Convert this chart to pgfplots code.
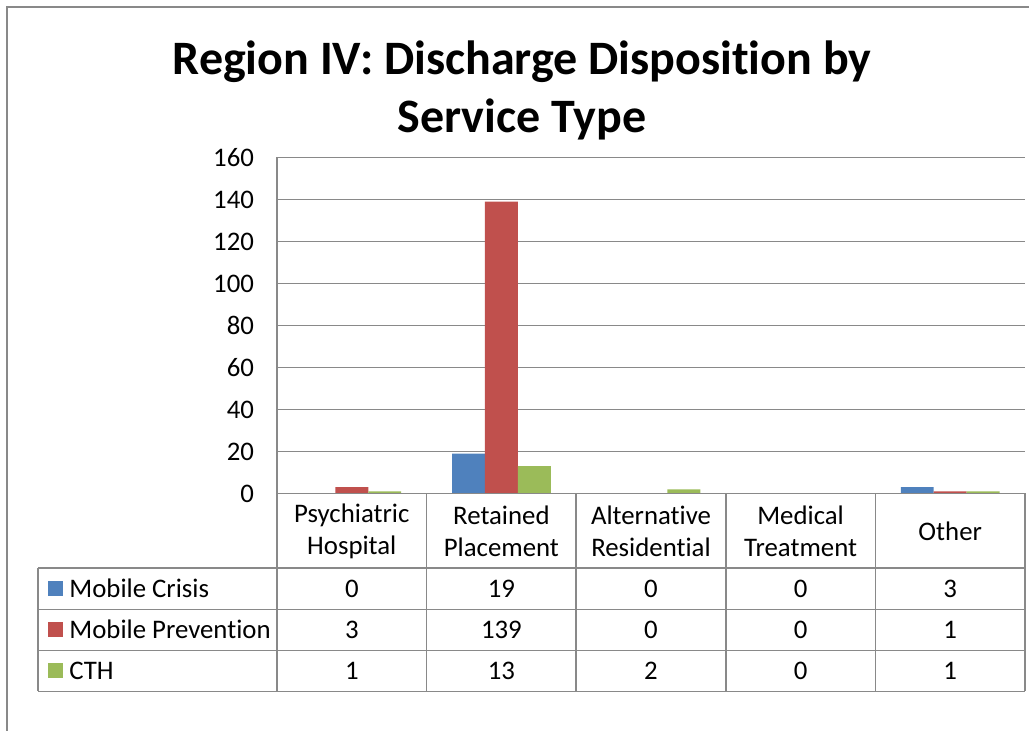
\documentclass[border=0pt]{standalone}
\usepackage{pgfplots}
\pgfplotsset{compat=1.18}
\usepackage{fontspec}
\setmainfont[Ligatures=NoCommon]{Carlito}
\definecolor{mcblue}{HTML}{4F81BD}
\definecolor{mcred}{HTML}{C0504D}
\definecolor{mcgreen}{HTML}{9BBB59}
\definecolor{gridgray}{HTML}{898989}

\begin{document}
\begin{tikzpicture}[font=\fontsize{13.4}{16}\selectfont]
% frame and bounding box, in pixel units from top-left
\begin{scope}[x=0.5pt,y=-0.5pt]
\useasboundingbox (0,0) rectangle (1029,731);
\draw[gridgray,line width=0.8pt] (7,731) -- (7,7) -- (1029,7);
\node[font=\bfseries\fontsize{24}{29}\selectfont,align=center] at (522,90)
  {Region IV: Discharge Disposition by\\Service Type};
\end{scope}

\begin{axis}[
  at={(138.5pt,-246.75pt)}, anchor=south west,
  scale only axis, width=374pt, height=168pt,
  ymin=0, ymax=160, ytick={0,20,...,160},
  xmin=-0.5, xmax=4.5, xtick=\empty,
  ybar=0pt, bar width=0.22,
  axis lines*=left,
  axis line style={gridgray,line width=0.8pt},
  ymajorgrids, grid style={gridgray,line width=0.8pt},
  major tick length=0pt,
  /pgf/number format/assume math mode=true,
  yticklabel style={font=\fontsize{13.4}{15}\selectfont, xshift=-8pt},
  clip=false,
]
\addplot[fill=mcblue,draw=none] coordinates {(0,0) (1,19) (2,0) (3,0) (4,3)};
\addplot[fill=mcred,draw=none] coordinates {(0,3) (1,139) (2,0) (3,0) (4,1)};
\addplot[fill=mcgreen,draw=none] coordinates {(0,1) (1,13) (2,2) (3,0) (4,1)};
\end{axis}

% data table under the plot
\begin{scope}[x=0.5pt,y=-0.5pt]
\draw[gridgray,line width=0.8pt] (277,493.5) -- (1025,493.5);
\foreach \y in {568,609.5,650.5,691.5} \draw[gridgray,line width=0.8pt] (38,\y) -- (1025,\y);
\foreach \x in {277,426.6,576.2,725.8,875.4,1025} \draw[gridgray,line width=0.8pt] (\x,493.5) -- (\x,691.5);
\draw[gridgray,line width=0.8pt] (38,568) -- (38,691.5);
\foreach \lab [count=\i from 0] in {{Psychiatric\\Hospital},{Retained\\Placement},{Alternative\\Residential},{Medical\\Treatment},{Other}}
  \node[align=center] at (351.8+149.6*\i,531) {\lab};
\foreach \c/\lab/\yy in {mcblue/Mobile Crisis/588.5, mcred/Mobile Prevention/629.5, mcgreen/CTH/671}{
  \fill[\c] (48,\yy-7.5) rectangle (63,\yy+7.5);
  \node[anchor=west,inner sep=0pt] at (69,\yy) {\lab};
}
\foreach \a/\b/\cc/\d/\e [count=\r from 0] in {0/19/0/0/3, 3/139/0/0/1, 1/13/2/0/1}{
  \pgfmathsetmacro{\yy}{588.5+41.25*\r}
  \node at (351.8,\yy) {\a};
  \node at (501.4,\yy) {\b};
  \node at (651.0,\yy) {\cc};
  \node at (800.6,\yy) {\d};
  \node at (950.2,\yy) {\e};
}
\end{scope}
\end{tikzpicture}
\end{document}
